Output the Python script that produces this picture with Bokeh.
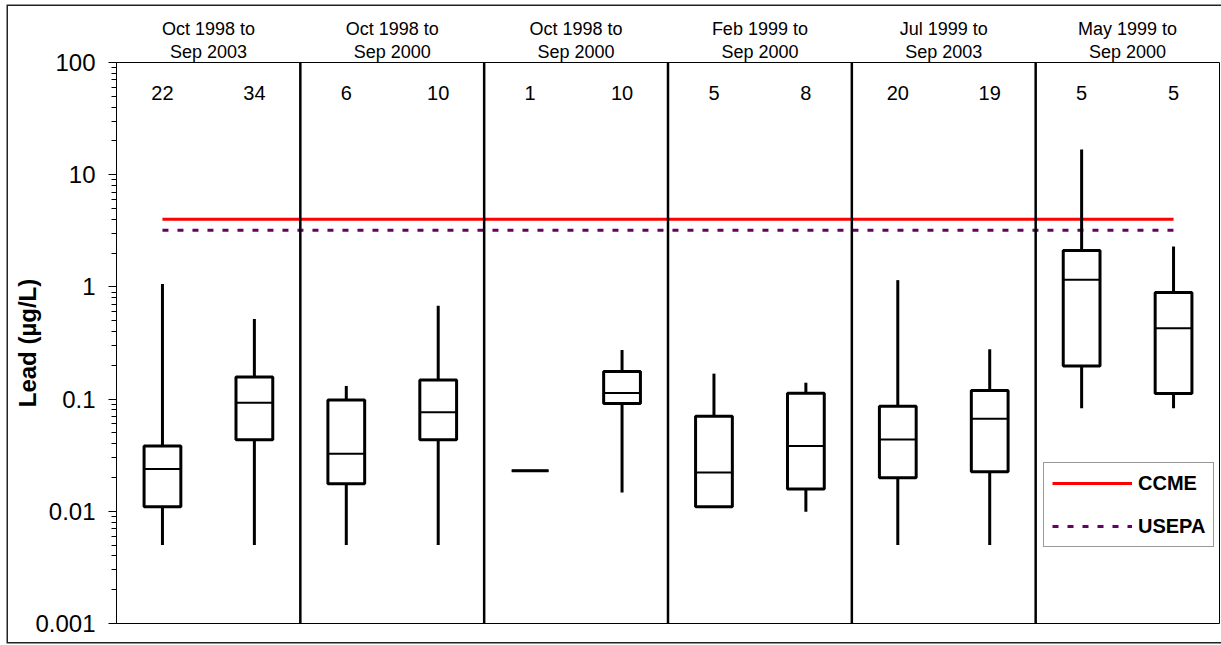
from bokeh.plotting import figure
from bokeh.models import (FixedTicker, LinearAxis, Range1d, Span, Legend,
                          LegendItem, ColumnDataSource)
from bokeh.core.properties import value
from bokeh.embed import file_html
from bokeh.resources import INLINE

FONT = "Liberation Sans"

# Sampling periods, one per station (two boxes each)
periods = [
    "Oct 1998 to\nSep 2003",
    "Oct 1998 to\nSep 2000",
    "Oct 1998 to\nSep 2000",
    "Feb 1999 to\nSep 2000",
    "Jul 1999 to\nSep 2003",
    "May 1999 to\nSep 2000",
]

# Number of samples behind each box
counts = [22, 34, 6, 10, 1, 10, 5, 8, 20, 19, 5, 5]

# Box-plot statistics for lead (ug/L)
whisker_low = [0.005, 0.005, 0.005, 0.005, 0.023, 0.0147, 0.011, 0.0099, 0.005, 0.005, 0.083, 0.083]
q1 = [0.011, 0.0434, 0.0176, 0.0434, 0.023, 0.0912, 0.011, 0.0158, 0.0199, 0.0225, 0.197, 0.112]
median = [0.0238, 0.093, 0.0325, 0.0764, 0.023, 0.1135, 0.0222, 0.0381, 0.0436, 0.0667, 1.156, 0.427]
q3 = [0.0381, 0.157, 0.0984, 0.148, 0.023, 0.176, 0.0705, 0.1128, 0.0865, 0.119, 2.11, 0.893]
whisker_high = [1.06, 0.517, 0.131, 0.679, 0.023, 0.274, 0.1686, 0.140, 1.149, 0.278, 16.8, 2.29]

# Guideline values (ug/L)
ccme = 4.0
usepa = 3.2

# y-axis decades and labels
decades = [0.001, 0.01, 0.1, 1, 10, 100]
decade_labels = ["0.001", "0.01", "0.1", "1", "10", "100"]

n_boxes = len(counts)
xs = [i + 0.5 for i in range(n_boxes)]
half = 0.2
group_centers = [2 * g + 1 for g in range(len(periods))]
separators = [2 * g for g in range(1, len(periods))]

p = figure(width=1213, height=636,
           x_range=Range1d(0, 2 * len(periods)), y_range=Range1d(0.001, 100),
           y_axis_type="log", output_backend="svg", toolbar_location=None,
           min_border_left=108, min_border_right=2, min_border_top=56, min_border_bottom=19)
p.margin = (6, 0, 0, 8)
# thin dark frame around the whole chart
p.styles = {"box-shadow": "0 0 0 1.5px #222"}
p.background_fill_color = "white"
p.border_fill_color = "white"
p.outline_line_color = "black"
p.outline_line_width = 1
p.xgrid.visible = False
p.ygrid.visible = False
p.xaxis.visible = False

# y axis
minor = [m * d for d in decades[:-1] for m in range(2, 10)]
ya = p.yaxis[0]
ya.ticker = FixedTicker(ticks=decades, minor_ticks=minor)
ya.major_label_overrides = {d: lbl for d, lbl in zip(decades, decade_labels)}
ya.major_label_text_font = FONT
ya.major_label_text_font_size = "24px"
ya.major_label_text_color = "black"
ya.major_label_standoff = 13
ya.major_tick_out = 8
ya.major_tick_in = 0
ya.minor_tick_out = 5
ya.minor_tick_in = 0
ya.major_tick_line_color = "black"
ya.minor_tick_line_color = "black"
ya.axis_line_color = "black"
ya.axis_line_width = 1
ya.axis_label = "Lead (µg/L)"
ya.axis_label_text_font = FONT
ya.axis_label_text_font_size = "24px"
ya.axis_label_text_font_style = "bold"
ya.axis_label_text_color = "black"
ya.axis_label_standoff = -9

# period labels above each station
top = LinearAxis(ticker=FixedTicker(ticks=group_centers),
                 major_label_overrides={c: t for c, t in zip(group_centers, periods)})
top.major_label_text_font = FONT
top.major_label_text_font_size = "18px"
top.major_label_text_color = "black"
top.major_label_text_line_height = 1.12
top.major_label_standoff = -5
top.major_tick_line_color = None
top.minor_tick_line_color = None
top.axis_line_color = None
p.add_layout(top, "above")

# station separators
for s in separators:
    p.add_layout(Span(location=s, dimension="height", line_color="black", line_width=2.5))

# guideline lines
ccme_r = p.line([xs[0], xs[-1]], [ccme, ccme], line_color="#ff0000", line_width=3)
usepa_r = p.line([xs[0], xs[-1]], [usepa, usepa], line_color="#660066", line_width=3,
                 line_dash="6 9")

src = ColumnDataSource(dict(x=xs, left=[x - half for x in xs], right=[x + half for x in xs],
                            lo=whisker_low, q1=q1, med=median, q3=q3, hi=whisker_high,
                            n=[str(c) for c in counts], ny=[53] * n_boxes))

# whiskers
p.segment(x0="x", x1="x", y0="q3", y1="hi", source=src, line_color="black", line_width=3)
p.segment(x0="x", x1="x", y0="lo", y1="q1", source=src, line_color="black", line_width=3)
# boxes
p.quad(left="left", right="right", bottom="q1", top="q3", source=src,
       fill_color="white", line_color="black", line_width=3)
# medians
p.segment(x0="left", x1="right", y0="med", y1="med", source=src, line_color="black", line_width=2)

# sample counts
p.text(x="x", y="ny", text="n", source=src, text_align="center", text_baseline="middle",
       text_font=value(FONT), text_font_size="20px", text_color="black")

legend = Legend(items=[LegendItem(label="CCME", renderers=[ccme_r]),
                       LegendItem(label="USEPA", renderers=[usepa_r])],
                location=(927, 76), orientation="vertical")
legend.label_text_font = FONT
legend.label_text_font_size = "20px"
legend.label_text_font_style = "bold"
legend.label_text_color = "black"
legend.glyph_width = 80
legend.glyph_height = 24
legend.label_height = 24
legend.padding = 8
legend.spacing = 19
legend.label_standoff = 6
legend.margin = 0
legend.border_line_color = "#333333"
legend.border_line_width = 1
legend.background_fill_color = "white"
legend.background_fill_alpha = 1
p.add_layout(legend, "center")

open("out.html", "w").write(file_html(p, INLINE))
